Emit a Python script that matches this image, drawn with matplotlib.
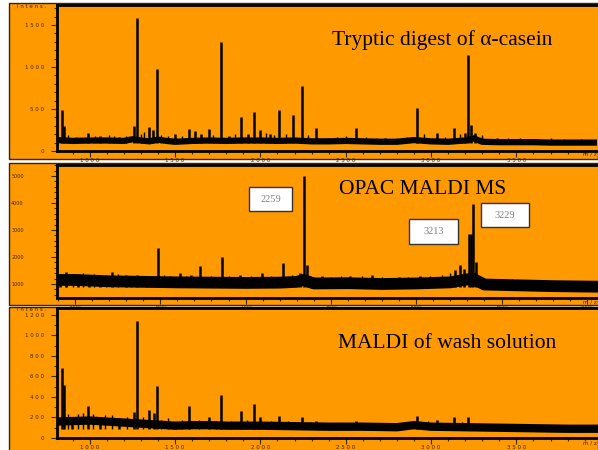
import matplotlib
matplotlib.use("Agg")
import matplotlib.pyplot as plt
from matplotlib.patches import Rectangle
from matplotlib.ticker import MultipleLocator, FuncFormatter

# --- panel 1: tryptic digest of alpha-casein ---
base1_mz = [808, 900, 1000, 1100, 1200, 1250, 1300, 1350, 1400, 1450, 1500, 1600, 1700,
            1800, 1900, 2000, 2100, 2200, 2300, 2400, 2500, 2600, 2700, 2800, 2900, 3000,
            3100, 3200, 3250, 3300, 3400, 3500, 3600, 3700, 3800, 3954]
base1_int = [130, 120, 125, 125, 120, 140, 125, 115, 135, 120, 110, 120, 125,
             120, 125, 125, 120, 125, 115, 115, 120, 115, 110, 110, 130, 115,
             110, 125, 150, 110, 105, 105, 105, 100, 100, 100]
peak1_mz = [837, 849, 988, 1058, 1174, 1262, 1279, 1349, 1372, 1395, 1500, 1581, 1616,
            1651, 1698, 1767, 1814, 1884, 1930, 1965, 2000, 2058, 2110, 2192, 2244,
            2326, 2395, 2558, 2733, 2919, 3035, 3134, 3198, 3215, 3233, 3256, 3384, 3616]
peak1_int = [490, 300, 210, 180, 170, 300, 1580, 290, 250, 975, 200, 260, 240,
             200, 260, 1300, 180, 400, 200, 460, 250, 200, 490, 430, 770,
             270, 160, 270, 150, 510, 210, 270, 220, 1140, 310, 220, 150, 140]
spike1_mz = [870, 920, 1030, 1110, 1140, 1210, 1300, 1320, 1420, 1460, 1540, 1720, 1850,
             2030, 2080, 2150, 2280, 2450, 2500, 2620, 2680, 2800, 2860, 2960, 3080,
             3170, 3300, 3450, 3520, 3700, 3780, 3880]
spike1_int = [190, 170, 180, 190, 175, 180, 200, 230, 190, 175, 180, 190, 200,
              210, 190, 200, 190, 170, 175, 165, 160, 160, 170, 200, 170,
              200, 190, 150, 155, 150, 145, 140]

# --- panel 2: OPAC MALDI MS ---
base2_mz = [895, 1000, 1200, 1400, 1600, 1800, 2000, 2200, 2300, 2340, 2400, 2600,
            2800, 3000, 3200, 3280, 3330, 3400, 3600, 3800, 4065]
base2_int = [1150, 1150, 1100, 1080, 1060, 1050, 1040, 1050, 1080, 1150, 1020, 1030,
             1000, 1020, 1060, 1150, 1200, 980, 950, 920, 900]
peak2_mz = [912, 947, 1020, 1080, 1147, 1217, 1300, 1363, 1486, 1560, 1615, 1680, 1733,
            1861, 1967, 2096, 2219, 2319, 2342, 2360, 2450, 2612, 2740, 2900, 3022,
            3227, 3256, 3280, 3309, 3321, 3332, 3350, 3491, 3700]
peak2_int = [1350, 1450, 1380, 1350, 1300, 1440, 1350, 1350, 2330, 1300, 1400, 1350, 1670,
             2000, 1350, 1400, 1780, 1400, 5000, 1700, 1300, 1300, 1350, 1250, 1300,
             1500, 1700, 1550, 2850, 2850, 3960, 1800, 1200, 1150]
spike2_mz = [950, 990, 1050, 1110, 1180, 1250, 1330, 1420, 1520, 1650, 1800, 1900, 2030,
             2150, 2270, 2400, 2500, 2560, 2680, 2800, 2950, 3080, 3150, 3200, 3420,
             3560, 3640, 3800, 3900, 4000]
spike2_int = [1400, 1350, 1400, 1380, 1350, 1380, 1300, 1300, 1330, 1300, 1280, 1300, 1280,
              1300, 1350, 1250, 1250, 1280, 1280, 1250, 1270, 1300, 1350, 1400, 1200,
              1180, 1150, 1100, 1100, 1080]
labels2 = ["2259", "3213", "3229"]

# --- panel 3: MALDI of wash solution ---
base3_mz = [808, 900, 1000, 1100, 1200, 1300, 1400, 1500, 1600, 1700, 1800, 1900, 2000,
            2200, 2400, 2600, 2800, 2900, 3000, 3200, 3400, 3600, 3800, 3954]
base3_int = [160, 165, 170, 160, 150, 140, 130, 120, 125, 125, 120, 120, 120,
             115, 110, 110, 105, 125, 110, 105, 100, 95, 90, 90]
peak3_mz = [837, 849, 895, 988, 1058, 1174, 1262, 1279, 1349, 1378, 1395, 1500, 1581,
            1698, 1767, 1884, 1965, 2000, 2110, 2244, 2326, 2558, 2919, 3035, 3134, 3215]
peak3_int = [680, 520, 200, 310, 200, 190, 250, 1140, 270, 240, 505, 140, 310,
             200, 420, 260, 330, 200, 215, 200, 170, 170, 215, 180, 200, 200]
spike3_mz = [870, 930, 960, 1020, 1090, 1130, 1220, 1310, 1420, 1460, 1540, 1640, 1740,
             1830, 1920, 2060, 2160, 2290, 2420, 2500, 2650, 2750, 2850, 2980, 3090,
             3180, 3300, 3450, 3600, 3750, 3880]
spike3_int = [230, 230, 240, 230, 220, 220, 200, 200, 180, 190, 180, 180, 170,
              170, 180, 170, 170, 160, 150, 150, 150, 145, 150, 170, 150,
              160, 140, 130, 125, 120, 115]

W, H = 598, 450
ORANGE = "#FF9900"
DARK = "#3a2600"


def rect(l, t, r, b):
    return [l / W, 1 - b / H, (r - l) / W, (b - t) / H]


def spaced(v, pos):
    return " ".join(str(int(round(v))))


fig = plt.figure(figsize=(W / 100, H / 100), dpi=100)
fig.patch.set_facecolor("white")

# orange panel backgrounds (behind the axes)
for (t, b) in [(3, 159), (163, 305), (307, 452)]:
    fig.patches.append(Rectangle((9 / W, 1 - b / H), (W - 9) / W, (b - t) / H,
                                 transform=fig.transFigure, facecolor=ORANGE,
                                 edgecolor=DARK, lw=1.0, zorder=-5))

panels = [
    dict(box=(57, 5, 600, 151), xlim=(808, 3990), ylim=(0, 1738),
         base=(base1_mz, base1_int), peaks=(peak1_mz, peak1_int),
         spikes=(spike1_mz, spike1_int), blw=4.5,
         ymaj=500, ymin=100, title="Tryptic digest of α-casein", tpos=(442, 40)),
    dict(box=(57, 165, 600, 298), xlim=(895, 4077), ylim=(481, 5407),
         base=(base2_mz, base2_int), peaks=(peak2_mz, peak2_int),
         spikes=(spike2_mz, spike2_int), blw=8.5,
         ymaj=1000, ymin=200, title="OPAC MALDI MS", tpos=(423, 190)),
    dict(box=(57, 308, 600, 438), xlim=(808, 3990), ylim=(0, 1265),
         base=(base3_mz, base3_int), peaks=(peak3_mz, peak3_int),
         spikes=(spike3_mz, spike3_int), blw=6.0,
         ymaj=200, ymin=100, title="MALDI of wash solution", tpos=(447, 343)),
]

for i, p in enumerate(panels):
    ax = fig.add_axes(rect(*p["box"]))
    ax.set_facecolor(ORANGE)
    ax.set_xlim(*p["xlim"])
    ax.set_ylim(*p["ylim"])
    floor = min(p["base"][1])
    ax.plot(p["base"][0], p["base"][1], color="black", lw=p["blw"],
            solid_joinstyle="round", zorder=2)
    ax.vlines(p["spikes"][0], [floor] * len(p["spikes"][0]), p["spikes"][1],
              color="black", lw=1.0, zorder=3)
    ax.vlines(p["peaks"][0], [floor] * len(p["peaks"][0]), p["peaks"][1],
              color="black", lw=1.8, zorder=3)
    for s in ["left", "top", "bottom"]:
        ax.spines[s].set_linewidth(2)
        ax.spines[s].set_color("black")
    ax.spines["right"].set_visible(False)
    ax.xaxis.set_major_locator(MultipleLocator(500))
    ax.xaxis.set_minor_locator(MultipleLocator(100))
    ax.yaxis.set_major_locator(MultipleLocator(p["ymaj"]))
    ax.yaxis.set_minor_locator(MultipleLocator(p["ymin"]))
    ax.tick_params(which="both", direction="out", color=DARK, width=0.8)
    ax.tick_params(which="major", length=4, labelsize=4, labelcolor=DARK, pad=1)
    ax.tick_params(which="minor", length=2.5)
    if i == 1:
        ax.xaxis.set_major_formatter(FuncFormatter(lambda v, pos: "%d" % v))
        ax.yaxis.set_major_formatter(FuncFormatter(lambda v, pos: "%d" % v))
        ax.tick_params(axis="y", which="major", pad=20, labelsize=3.5)
        ax.tick_params(axis="x", which="major", labelsize=3.5)
    else:
        ax.xaxis.set_major_formatter(FuncFormatter(spaced))
        ax.yaxis.set_major_formatter(FuncFormatter(spaced))
        ax.tick_params(axis="y", which="major", pad=5)
        ax.text(-0.02, 0.99, "I n t e n s .", transform=ax.transAxes, ha="right",
                va="center", fontsize=4, color=DARK)
    fig.text(p["tpos"][0] / W, 1 - p["tpos"][1] / H, p["title"],
             family="Liberation Serif", fontsize=15.5, ha="center", va="center")

# m/z labels at the right edge of the x axes
for y in [154.5, 302, 443]:
    fig.text(583 / W, 1 - y / H, "m / z", fontsize=4, color=DARK, va="center")

# boxed peak labels on panel 2
boxes = [(249, 187, 292, 211), (409, 219, 458, 244), (481, 203, 529, 227)]
for lab, (l, t, r, b) in zip(labels2, boxes):
    fig.patches.append(Rectangle((l / W, 1 - b / H), (r - l) / W, (b - t) / H,
                                 transform=fig.transFigure, facecolor="white",
                                 edgecolor="#333333", lw=1.0, zorder=5))
    fig.text((l + r) / 2 / W, 1 - (t + b) / 2 / H, lab, family="Liberation Serif",
             fontsize=7.5, color="#808080", ha="center", va="center", zorder=6)

fig.savefig("out.png", dpi=100)
